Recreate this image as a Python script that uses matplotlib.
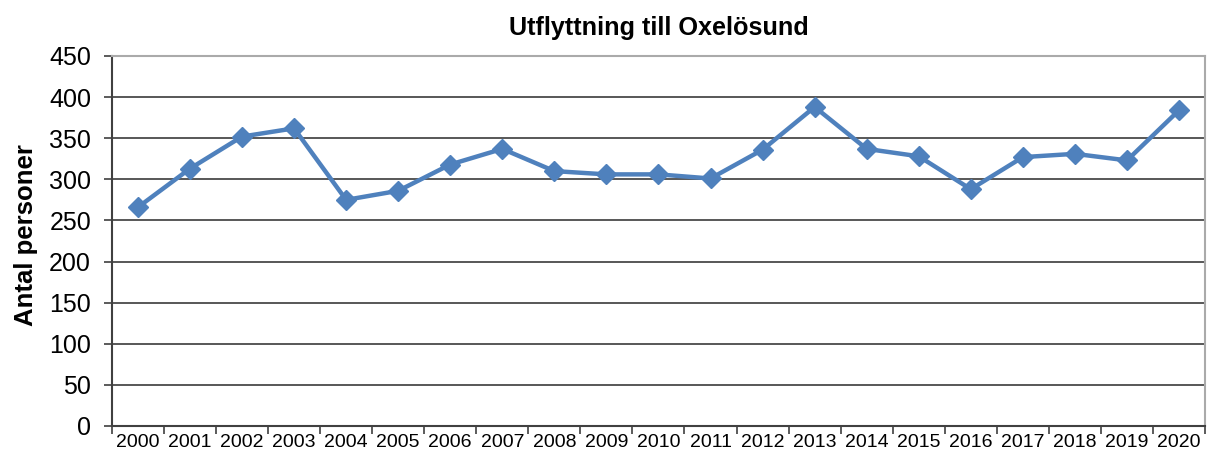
import matplotlib
matplotlib.use("Agg")
import matplotlib.pyplot as plt
import numpy as np

years = [str(y) for y in range(2000, 2021)]
values = [266, 313, 352, 362, 275, 286, 318, 337, 310, 306, 306, 301, 336, 388, 337, 328, 288, 327, 331, 323, 384]
yticks = [0, 50, 100, 150, 200, 250, 300, 350, 400, 450]

plt.rcParams['font.family'] = ['Liberation Sans', 'DejaVu Sans']

fig = plt.figure(figsize=(12.16, 4.59), dpi=100)
ax = fig.add_axes([0.092, 0.072, 0.899, 0.806])

x = np.arange(len(years))
ax.plot(x, values, color='#4F81BD', lw=3.2, marker='D', markersize=10, zorder=3)

ax.set_xlim(-0.5, len(years) - 0.5)
ax.set_ylim(0, 450)
ax.set_yticks(yticks)
ax.set_yticklabels([str(v) for v in yticks], fontsize=18)
ax.set_xticks(x)
ax.set_xticklabels(years, fontsize=14)
ax.set_xticks(np.arange(-0.5, len(years)), minor=True)
ax.tick_params(axis='x', which='major', length=0, pad=6)
ax.tick_params(axis='x', which='minor', length=6, width=1.2, color='#404040')
ax.tick_params(axis='y', length=6, width=1.2, color='#404040', pad=9)

ax.grid(axis='y', color='#4a4a4a', lw=1.3)
ax.set_axisbelow(True)
for s in ['left', 'bottom']:
    ax.spines[s].set_color('#404040')
    ax.spines[s].set_linewidth(1.5)
for s in ['top', 'right']:
    ax.spines[s].set_color('#aaaaaa')
    ax.spines[s].set_linewidth(1.5)

ax.set_title('Utflyttning till Oxelösund', fontsize=18.2, fontweight='bold', pad=15)
ax.set_ylabel('Antal personer', fontsize=18.5, fontweight='bold')
ax.yaxis.set_label_coords(-0.068, 0.515)

fig.savefig('out.png', dpi=100)
